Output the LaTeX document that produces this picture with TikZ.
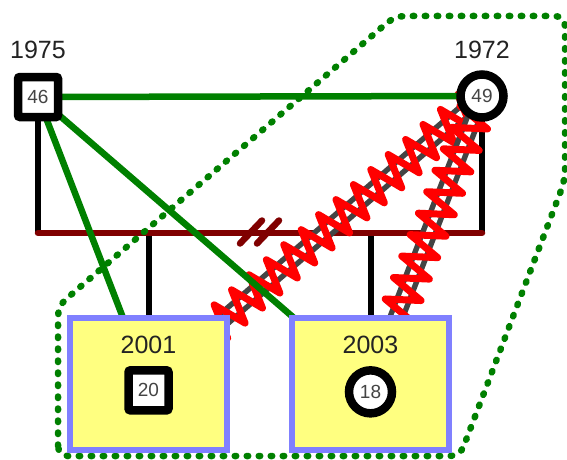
\documentclass[tikz,border=0pt]{standalone}
\usepackage{fontspec}
\setmainfont{Liberation Sans}
\usetikzlibrary{positioning,calc,backgrounds,decorations.pathmorphing}
\definecolor{fern}{RGB}{0,128,0}
\definecolor{wine}{RGB}{128,0,0}
\definecolor{scarlet}{RGB}{255,0,0}
\definecolor{lilac}{RGB}{128,128,255}
\definecolor{lemon}{RGB}{255,255,128}
\definecolor{slate}{RGB}{68,68,68}
\definecolor{ink}{RGB}{35,35,35}
\tikzset{
  person/.style={draw=black,fill=white,line width=8.5pt,inner sep=0pt,
    text=slate,font=\fontsize{19}{19}\selectfont},
  male/.style={person,rectangle,rounded corners=2pt,minimum size=40pt},
  female/.style={person,circle,minimum size=43pt},
  kid/.style={draw=lilac,fill=lemon,line width=6pt,minimum width=157pt,minimum height=132pt},
  year/.style={text=ink,inner sep=3pt,font=\fontsize{25}{25}\selectfont},
  stem/.style={draw=black,line width=6pt},
  tie/.style={draw=wine,line width=6.5pt,line cap=round},
  bond/.style={draw=fern,line width=6.5pt},
  rail/.style={draw=slate,line width=5.5pt,double=white,double distance=6.5pt},
  feud/.style={draw=scarlet,line width=7pt,line join=round,decorate,
    decoration={zigzag,segment length=23pt,amplitude=17pt}},
  household/.style={draw=fern,line width=6.5pt,line cap=round,
    dash pattern=on 1.5pt off 10.5pt,rounded corners=10pt},
}
\begin{document}
\begin{tikzpicture}[x=1pt,y=-1pt]
  \useasboundingbox (0,0) rectangle (567,460);
  % parents
  \node[male] (dad) at (38,97) {46};
  \node[female] (mom) at (482,96) {49};
  \node[year,above=11pt of dad] (dadyear) {1975};
  \node[year,above=8pt of mom] (momyear) {1972};
  % children
  \foreach \k/\x/\yr/\s/\a in {kidA/148.5/2001/male/20,kidB/370.5/2003/female/18} {
    \node[kid] (\k) at (\x,384) {};
    \node[year,below=18pt of \k.north] (\k year) {\yr};
    \node[\s,below=9pt of \k year] (\k sign) {\a};
  }
  \begin{scope}[on background layer]
    \coordinate (wed) at (0,233);
    \draw[stem] (dad.center) -- (dad |- wed);
    \draw[stem] (mom.center) -- (mom |- wed);
    \foreach \k in {kidA,kidB} \draw[stem] (\k |- wed) -- (\k.center);
    % marriage line, divorced
    \draw[tie] (dad |- wed) -- (mom |- wed);
    \coordinate (cut) at (259.5,232);
    \foreach \dx in {-8.5,8.5}
      \draw[tie] ($(cut)+(\dx-11,11.5)$) -- ($(cut)+(\dx+11,-11.5)$);
    % hostile ties
    \foreach \k in {kidA,kidB} {
      \draw[rail] (mom.center) -- (\k.center);
      \draw[feud] (mom.center) -- (\k.center);
    }
    % close ties
    \foreach \k in {mom,kidA,kidB} \draw[bond] (dad.center) -- (\k.center);
    % household
    \draw[household] (58,456) -- (58,306) -- (395,16) -- (565,16)
      -- (565,180) -- (460,456) -- cycle;
  \end{scope}
\end{tikzpicture}
\end{document}
